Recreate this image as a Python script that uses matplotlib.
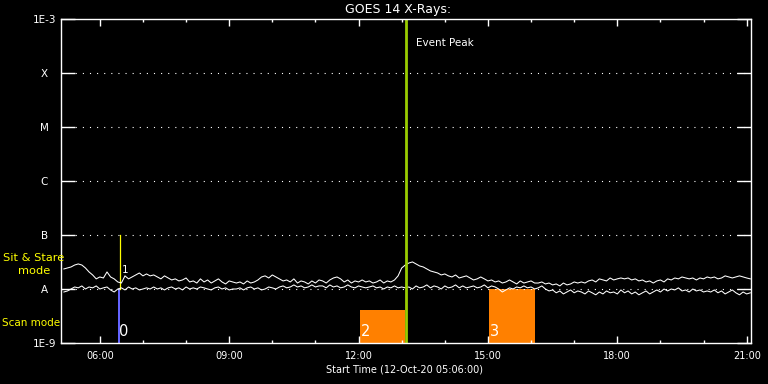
import matplotlib
matplotlib.use('Agg')
import matplotlib.pyplot as plt
from matplotlib.ticker import FixedLocator, MultipleLocator, NullLocator
import numpy as np

# GOES 14 x-ray flux, 5-minute samples from 05:10, in units of 1e-8 W/m^2
long_flux = [
    2.35, 2.45, 2.56, 2.78, 2.91, 2.78, 2.45, 2.07, 1.82, 1.54, 1.67, 1.60,
    2.07, 1.67, 1.54, 1.35, 1.29, 1.75, 1.54, 1.67, 1.82, 1.98, 1.75, 1.90,
    1.75, 1.82, 1.67, 1.54, 1.75, 1.60, 1.47, 1.54, 1.41, 1.47, 1.60, 1.35,
    1.41, 1.29, 1.54, 1.35, 1.47, 1.29, 1.41, 1.54, 1.35, 1.24, 1.41, 1.35,
    1.29, 1.35, 1.24, 1.41, 1.29, 1.35, 1.47, 1.67, 1.75, 1.60, 1.82, 1.67,
    1.54, 1.41, 1.47, 1.35, 1.54, 1.29, 1.41, 1.35, 1.24, 1.41, 1.29, 1.47,
    1.41, 1.29, 1.47, 1.60, 1.67, 1.54, 1.35, 1.47, 1.29, 1.41, 1.35, 1.47,
    1.35, 1.41, 1.29, 1.35, 1.47, 1.29, 1.41, 1.35, 1.47, 1.75, 2.45, 2.78,
    3.03, 3.17, 2.91, 2.67, 2.56, 2.35, 2.16, 2.07, 1.98, 1.82, 1.90, 1.75,
    1.67, 1.82, 1.60, 1.67, 1.75, 1.60, 1.47, 1.54, 1.67, 1.54, 1.41, 1.47,
    1.35, 1.41, 1.29, 1.35, 1.47, 1.35, 1.24, 1.41, 1.29, 1.35, 1.41, 1.29,
    1.29, 1.35, 1.24, 1.29, 1.19, 1.24, 1.14, 1.29, 1.19, 1.24, 1.35, 1.29,
    1.35, 1.29, 1.41, 1.47, 1.35, 1.54, 1.47, 1.41, 1.60, 1.47, 1.54, 1.60,
    1.54, 1.60, 1.47, 1.54, 1.41, 1.47, 1.35, 1.41, 1.29, 1.41, 1.47, 1.35,
    1.54, 1.47, 1.60, 1.54, 1.67, 1.60, 1.54, 1.60, 1.47, 1.60, 1.54, 1.67,
    1.60, 1.67, 1.54, 1.60, 1.75, 1.67, 1.60, 1.67, 1.75, 1.67, 1.60, 1.54,
]
short_flux = [
    0.88, 0.92, 1.00, 1.09, 1.05, 1.14, 1.00, 1.09, 1.05, 1.14, 1.00, 1.05,
    1.09, 0.96, 0.88, 1.00, 1.05, 0.96, 1.09, 1.00, 1.05, 0.96, 1.00, 1.05,
    1.00, 1.09, 1.00, 1.05, 0.96, 1.05, 1.09, 1.00, 1.05, 0.96, 1.09, 1.00,
    1.05, 1.00, 1.09, 1.05, 1.00, 0.96, 1.05, 1.09, 1.00, 1.05, 0.96, 1.00,
    1.00, 1.05, 0.96, 1.05, 1.09, 1.00, 1.05, 0.96, 1.00, 1.09, 1.05, 1.00,
    1.09, 1.14, 1.05, 1.09, 1.19, 1.09, 1.14, 1.05, 1.09, 1.19, 1.09, 1.14,
    1.14, 1.05, 1.19, 1.09, 1.14, 1.05, 1.09, 1.19, 1.09, 1.05, 1.14, 1.09,
    1.05, 1.09, 1.14, 1.05, 1.09, 1.00, 1.09, 1.05, 1.14, 1.05, 1.09, 1.05,
    1.09, 1.00, 1.14, 1.05, 1.09, 1.19, 1.05, 1.14, 1.09, 1.00, 1.14, 1.05,
    1.09, 1.19, 1.05, 1.14, 1.05, 1.09, 1.14, 1.05, 1.09, 1.19, 1.05, 1.14,
    1.09, 1.00, 0.88, 0.96, 1.05, 1.00, 1.09, 1.05, 1.14, 1.05, 1.09, 1.00,
    1.05, 1.14, 1.00, 0.92, 0.96, 0.85, 0.92, 0.81, 0.88, 0.96, 0.85, 0.92,
    0.88, 0.81, 0.92, 0.85, 0.78, 0.88, 0.81, 0.92, 0.85, 0.88, 0.81, 0.96,
    0.85, 0.92, 0.81, 0.88, 0.78, 0.85, 0.92, 0.81, 0.88, 0.96, 0.88, 1.00,
    0.92, 1.00, 0.96, 1.05, 0.92, 0.96, 0.88, 1.00, 0.92, 0.96, 0.88, 0.92,
    0.88, 0.96, 0.85, 0.92, 0.81, 0.88, 0.96, 0.85, 0.78, 0.88, 0.81, 0.85,
]
t = 5 + 10/60 + np.arange(len(long_flux)) * 5/60   # hours of 12-Oct-20

# observations (hours), labels
scan_start = [6.415, 12.03, 15.03]
scan_end = [6.475, 13.08, 16.09]
scan_top = [1e-8, 4.1e-9, 1e-8]
scan_color = ['#6464ff', '#ff8000', '#ff8000']
scan_label = ['0', '2', '3']
sit_time = 6.46
sit_label = '1'
peak_time = 13.10

levels = [1e-9, 1e-8, 1e-7, 1e-6, 1e-5, 1e-4, 1e-3]
level_names = ['1E-9', 'A', 'B', 'C', 'M', 'X', '1E-3']
hour_ticks = [6, 9, 12, 15, 18, 21]

fig = plt.figure(figsize=(7.68, 3.84), dpi=100, facecolor='black')
ax = fig.add_axes([61/768, 41/384, 690/768, 324/384], facecolor='black')
ax.set_yscale('log')
ax.set_xlim(5.1, 21.1)
ax.set_ylim(1e-9, 1e-3)

for lv in levels[1:-1]:
    ax.plot([5.1, 21.1], [lv, lv], color='white', lw=0.8, dashes=(1, 5.4))

for s, e, top, c in zip(scan_start, scan_end, scan_top, scan_color):
    ax.fill_between([s, e], 1e-9, top, color=c, lw=0)
for s, lab in zip(scan_start, scan_label):
    ax.text(s + 0.02, 1.2e-9, lab, color='white', fontsize=10.5, va='bottom', ha='left')

ax.plot([sit_time, sit_time], [1e-8, 1e-7], color='#ffff00', lw=0.9)
ax.text(sit_time + 0.06, 1.8e-8, sit_label, color='white', fontsize=7.5, va='bottom')

ax.plot(t, np.array(long_flux) * 1e-8, color='white', lw=0.75)
ax.plot(t, np.array(short_flux) * 1e-8, color='white', lw=0.75)

ax.axvline(peak_time, color='#99cc00', lw=2.0)
ax.text(peak_time + 0.24, 3.6e-4, 'Event Peak', color='white', fontsize=7.5, va='center')

for sp in ax.spines.values():
    sp.set_color('white')
    sp.set_linewidth(1.0)

ax.yaxis.set_major_locator(FixedLocator(levels))
ax.yaxis.set_minor_locator(NullLocator())
ax.set_yticklabels(level_names)
ax.tick_params(axis='y', which='major', direction='in', length=10, width=1,
               left=True, right=True, colors='white', labelsize=7.5, pad=12)
for lab in ax.get_yticklabels():
    lab.set_ha('center')

ax.xaxis.set_major_locator(FixedLocator(hour_ticks))
ax.xaxis.set_minor_locator(MultipleLocator(1))
ax.set_xticklabels(['%02d:00' % h for h in hour_ticks])
ax.tick_params(axis='x', which='major', direction='in', length=5, width=1,
               top=True, bottom=True, colors='white', labelsize=7, pad=6)
ax.tick_params(axis='x', which='minor', direction='in', length=2.5, width=1,
               top=True, bottom=True, colors='white')

fig.text(398/768, 1 - 10/384, 'GOES 14 X-Rays:', color='white', fontsize=9,
         ha='center', va='center')
fig.text(405/768, 1 - 369/384, 'Start Time (12-Oct-20 05:06:00)', color='white',
         fontsize=7, ha='center', va='center')
fig.text(34/768, 1 - 258/384, 'Sit & Stare', color='#ffff00', fontsize=8.2,
         ha='center', va='center')
fig.text(34/768, 1 - 271/384, 'mode', color='#ffff00', fontsize=8.2,
         ha='center', va='center')
fig.text(2/768, 1 - 323/384, 'Scan mode', color='#ffff00', fontsize=7.5,
         ha='left', va='center')

fig.savefig('out.png', dpi=100, facecolor='black')
